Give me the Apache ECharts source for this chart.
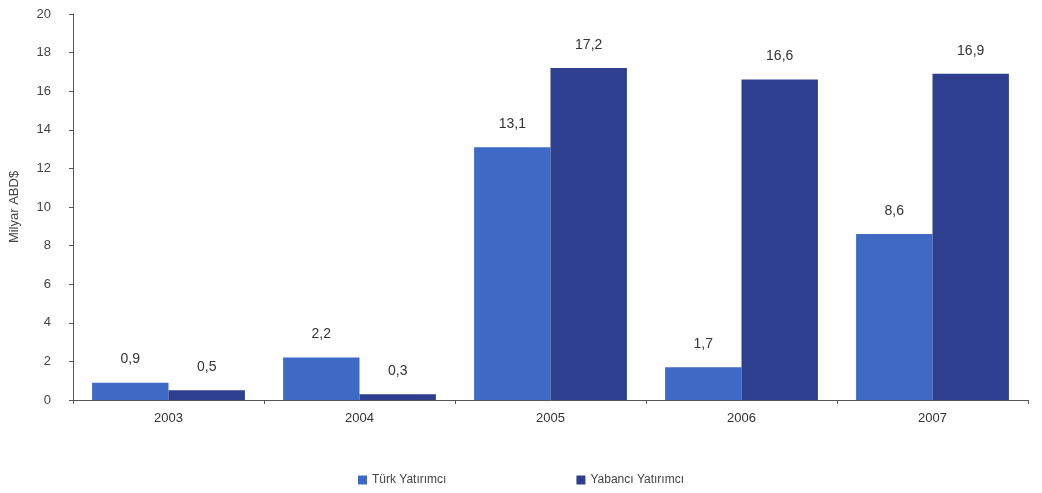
<!DOCTYPE html>
<html><head><meta charset="utf-8">
<script src="https://cdn.jsdelivr.net/npm/echarts@6/dist/echarts.min.js"></script>
<style>html,body{margin:0;padding:0;background:#fff}#c{width:1042px;height:493px}</style>
</head><body><div id="c"></div>
<script>
const years = ['2003','2004','2005','2006','2007'];
const turk = [0.9, 2.2, 13.1, 1.7, 8.6];
const yabanci = [0.5, 0.3, 17.2, 16.6, 16.9];
const seriesNames = ['Türk Yatırımcı', 'Yabancı Yatırımcı'];
const yTicks = [0, 2, 4, 6, 8, 10, 12, 14, 16, 18, 20];

const chart = echarts.init(document.getElementById('c'));
const lbl = {
  show: true, position: 'top', distance: 16,
  color: '#333', fontSize: 14, fontFamily: 'Liberation Sans',
  formatter: p => String(p.value).replace('.', ',')
};
chart.setOption({
  animation: false,
  textStyle: { fontFamily: 'Liberation Sans' },
  grid: { left: 72, right: 14, top: 14, bottom: 93 },
  legend: {
    bottom: 2, left: 'center', itemGap: 130,
    itemWidth: 9, itemHeight: 9, icon: 'rect',
    textStyle: { color: '#444', fontSize: 12 },
    data: seriesNames
  },
  xAxis: {
    type: 'category', data: years,
    axisLine: { lineStyle: { color: '#555' } },
    axisTick: { show: true, alignWithLabel: false, length: 4, lineStyle: { color: '#555' } },
    axisLabel: { color: '#333', fontSize: 13, margin: 12 }
  },
  yAxis: {
    type: 'value', min: 0, max: 20, interval: 2,
    name: 'Milyar ABD$', nameLocation: 'middle', nameGap: 52, nameRotate: 90,
    nameTextStyle: { color: '#444', fontSize: 13 },
    axisLine: { show: true, lineStyle: { color: '#555' } },
    axisTick: { show: true, length: 4, lineStyle: { color: '#555' } },
    axisLabel: { color: '#444', fontSize: 13, margin: 22,
      formatter: v => yTicks.includes(v) ? String(v) : '' },
    splitLine: { show: false }
  },
  series: [
    { name: seriesNames[0], type: 'bar', data: turk, barGap: '0%', barCategoryGap: '20%',
      itemStyle: { color: '#3e6ac6' }, label: lbl },
    { name: seriesNames[1], type: 'bar', data: yabanci,
      itemStyle: { color: '#2f3f8f' }, label: lbl }
  ]
});
</script></body></html>
